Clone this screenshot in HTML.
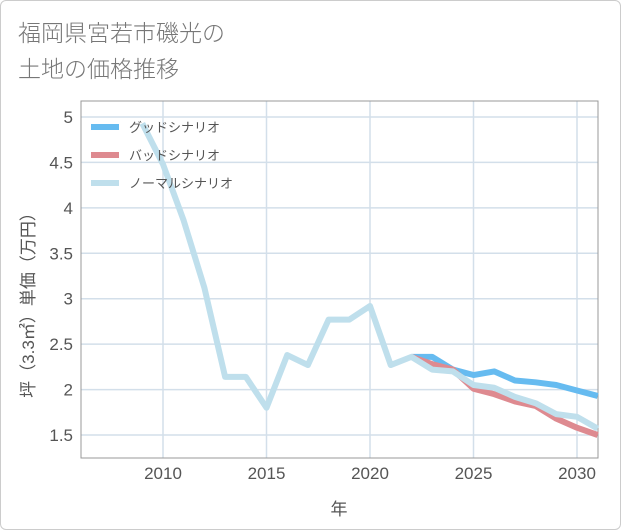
<!DOCTYPE html>
<html><head><meta charset="utf-8"><style>
body{margin:0;background:#fff;}
#wrap{position:relative;width:619px;height:528px;border:1px solid #ccc;border-radius:6px;background:#fff;font-family:"Liberation Sans","Noto Sans CJK JP",sans-serif;}
#title{position:absolute;left:17px;top:14px;font-size:23px;line-height:36px;color:#777;font-weight:300;}
svg{position:absolute;left:0;top:0;}
</style></head><body>
<div id="wrap">
<div id="title">福岡県宮若市磯光の<br>土地の価格推移</div>
<svg id="chart" width="621" height="530"></svg>
</div>
<script>
const years=[2009,2010,2011,2012,2013,2014,2015,2016,2017,2018,2019,2020,2021,2022,2023,2024,2025,2026,2027,2028,2029,2030,2031];
const normalVals=[4.93,4.48,3.86,3.12,2.14,2.14,1.8,2.38,2.27,2.77,2.77,2.92,2.27,2.36,2.22,2.2,2.05,2.02,1.92,1.85,1.73,1.7,1.57];
const futureYears=[2022,2023,2024,2025,2026,2027,2028,2029,2030,2031];
const goodVals=[2.36,2.36,2.22,2.16,2.2,2.1,2.08,2.05,1.99,1.93];
const badVals=[2.36,2.28,2.22,2.01,1.95,1.87,1.82,1.68,1.58,1.5];
const yTicks=[1.5,2,2.5,3,3.5,4,4.5,5];
const xTicks=[2010,2015,2020,2025,2030];
const legendNames=["グッドシナリオ","バッドシナリオ","ノーマルシナリオ"];
const NS="http://www.w3.org/2000/svg";
const svg=document.getElementById('chart');
const L=80,R=597,T=100,B=457;
const x=v=>162+(v-2010)*(576-162)/20;
const y=v=>116+(5-v)*(434-116)/3.5;
function mk(t,a){const e=document.createElementNS(NS,t);for(const k in a)e.setAttribute(k,a[k]);svg.appendChild(e);return e;}
for(const t of yTicks){
 const g=mk('line',{x1:L,x2:R,y1:y(t),y2:y(t),stroke:'#d3dfea','stroke-width':1.5});
 
 
 const l=mk('text',{x:72,y:y(t)+6,'text-anchor':'end','font-size':17,fill:'#555'});l.textContent=t;
 
 
}
for(const t of xTicks){
 const g=mk('line',{x1:x(t),x2:x(t),y1:T,y2:B,stroke:'#d3dfea','stroke-width':1.5});
 
 
 const l=mk('text',{x:x(t),y:478,'text-anchor':'middle','font-size':17,fill:'#555'});l.textContent=t;
 
 
}
const fr=mk('rect',{x:L,y:T,width:R-L,height:B-T,fill:'none',stroke:'#999','stroke-width':1});


function line(xs,vs,color,name){
 const p=mk('polyline',{points:xs.map((v,i)=>x(v)+','+y(vs[i])).join(' '),fill:'none',stroke:color,'stroke-width':6,'stroke-linejoin':'round'});
 
 
}
line(futureYears,goodVals,'#66bbf0','good-scenario-line');
line(futureYears,badVals,'#de8a90','bad-scenario-line');
line(years,normalVals,'#bfdfec','normal-scenario-line');
const cols=['#66bbf0','#de8a90','#bfdfec'];
legendNames.forEach((n,i)=>{
 const yy=126+i*28;
 const s=mk('line',{x1:90,x2:118,y1:yy,y2:yy,stroke:cols[i],'stroke-width':6});
 
 
 const t=mk('text',{x:128,y:yy+5,'font-size':13,fill:'#555'});t.textContent=n;
 
 
});
const xt=mk('text',{x:338,y:514,'text-anchor':'middle','font-size':17,fill:'#555'});xt.textContent='年';


const yt=mk('text',{x:0,y:0,'text-anchor':'middle','font-size':17,fill:'#555',transform:'translate(33,300) rotate(-90)'});yt.textContent='坪（3.3㎡）単価（万円）';


</script>
</body></html>
